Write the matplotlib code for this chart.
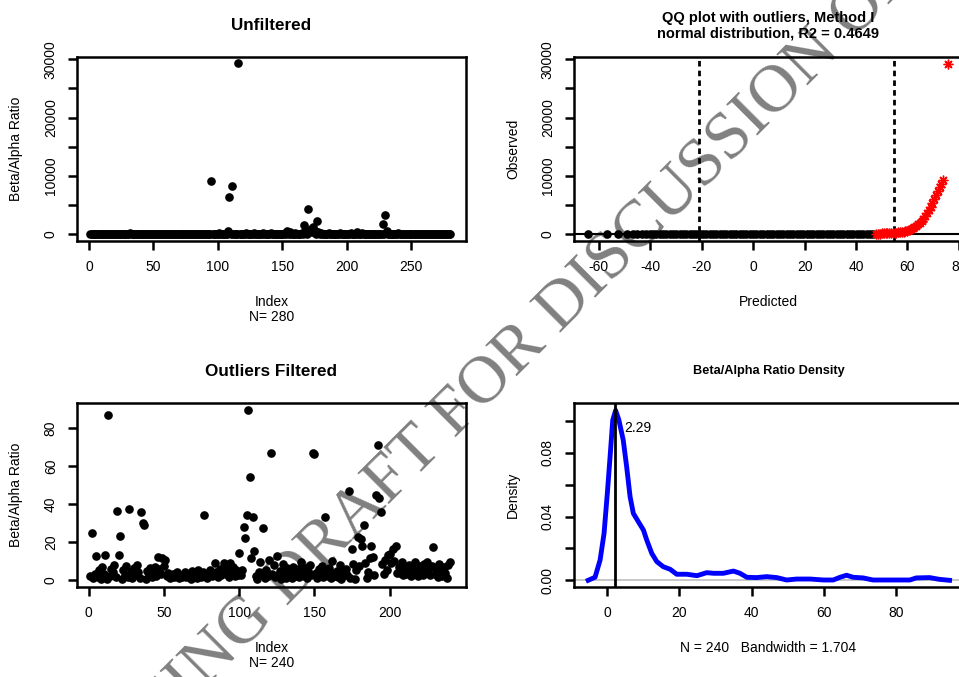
import matplotlib.pyplot as plt

plt.rcParams['font.family'] = ['Liberation Sans', 'DejaVu Sans']
plt.rcParams['axes.unicode_minus'] = False

# beta/alpha ratio after outlier removal (index 1..240)
filtered = [
    2.1, 25.1, 1.2, 3.4, 12.8, 1.8, 5.6, 0.9, 7.2, 3.1,
    13.3, 0.6, 86.8, 2.4, 6.1, 4.3, 8.2, 1.5, 36.6, 13.3,
    23.3, 0.8, 5.2, 2.9, 7.4, 1.9, 37.3, 4.1, 1.1, 6.3,
    2.6, 7.9, 4.4, 1.3, 36.0, 30.2, 29.0, 0.5, 5.1, 3.2,
    6.2, 1.6, 4.0, 6.8, 2.2, 12.1, 5.8, 3.3, 11.5, 7.6,
    10.7, 2.0, 3.9, 1.4, 2.8, 3.5, 1.7, 2.5, 4.2, 1.2,
    3.0, 1.9, 2.7, 4.6, 1.5, 3.3, 2.1, 0.9, 4.9, 2.4,
    3.8, 1.3, 5.2, 2.6, 1.6, 4.1, 34.4, 2.3, 1.1, 3.7,
    5.4, 2.0, 3.6, 9.3, 4.4, 1.8, 6.0, 2.9, 5.0, 8.9,
    3.4, 6.3, 1.7, 8.9, 4.8, 7.1, 2.5, 5.5, 3.0, 14.2,
    2.6, 5.3, 28.0, 22.1, 34.4, 89.8, 54.5, 11.6, 33.1, 15.6,
    2.0, 0.8, 4.2, 9.8, 3.1, 27.4, 1.0, 5.6, 2.3, 10.6,
    66.8, 3.4, 7.8, 1.9, 12.8, 2.7, 5.1, 0.9, 8.6, 3.5,
    1.4, 6.2, 2.8, 4.4, 1.1, 7.0, 3.2, 2.0, 5.7, 1.5,
    9.6, 3.9, 2.4, 6.5, 1.2, 4.7, 8.0, 2.6, 66.9, 66.3,
    3.6, 1.3, 5.9, 2.9, 7.3, 1.8, 33.2, 4.5, 2.2, 6.7,
    1.0, 10.3, 3.8, 2.5, 5.0, 1.6, 7.9, 0.7, 4.3, 2.8,
    6.1, 3.0, 47.2, 1.4, 16.3, 8.4, 0.6, 5.2, 23.0, 7.5,
    21.6, 17.8, 29.1, 9.0, 1.1, 4.6, 11.6, 18.1, 12.4, 2.8,
    44.7, 71.2, 43.1, 36.1, 8.8, 3.2, 10.5, 5.4, 13.3, 14.0,
    9.2, 16.5, 10.4, 17.9, 3.6, 6.8, 4.0, 9.7, 2.9, 7.2,
    3.5, 5.8, 8.1, 2.4, 6.6, 3.9, 9.4, 4.8, 2.2, 7.7,
    5.3, 3.0, 8.5, 4.1, 9.8, 6.2, 2.6, 7.4, 17.4, 3.3,
    5.9, 1.8, 8.7, 4.2, 2.5, 6.9, 3.6, 1.4, 8.0, 9.5,
]

# the 40 outliers, position in the unfiltered series and value
outlier_idx = [32, 95, 101, 108, 109, 111, 116, 122, 128, 135,
               141, 147, 152, 154, 156, 160, 165, 167, 168, 170,
               171, 172, 173, 174, 175, 177, 178, 180, 186, 195,
               203, 208, 212, 220, 228, 230, 231, 240, 252, 265]
outlier_val = [250, 9100, 180, 650, 6400, 8300, 29300, 150, 200, 300,
               250, 120, 200, 550, 400, 150, 300, 1550, 800, 4300,
               500, 900, 350, 1250, 600, 2230, 400, 200, 150, 180,
               300, 350, 150, 120, 1840, 3380, 500, 200, 130, 110]

unfiltered = []
k = 0
for i in range(1, 281):
    if i in outlier_idx:
        unfiltered.append(outlier_val[outlier_idx.index(i)])
    else:
        unfiltered.append(filtered[k])
        k += 1

# QQ plot, predicted vs observed
qq_black_x = [-64.2, -56.8, -52.5, -49.2, -46.9, -45.1, -43.4, -41.7,
              -40.3, -39.0, -37.7, -36.4, -35.1, -33.8, -32.5, -31.2, -29.9, -28.6,
              -27.3, -26.0, -24.7, -23.4, -22.1, -20.8, -19.5, -18.2, -16.9, -15.6,
              -14.3, -13.0, -11.7, -10.4, -9.1, -7.8, -6.5, -5.2, -3.9, -2.6,
              -1.3, 0.0, 1.3, 2.6, 3.9, 5.2, 6.5, 7.8, 9.1, 10.4,
              11.7, 13.0, 14.3, 15.6, 16.9, 18.2, 19.5, 20.8, 22.1, 23.4,
              24.7, 26.0, 27.3, 28.6, 29.9, 31.2, 32.5, 33.8, 35.1, 36.4,
              37.7, 39.0, 40.3, 41.6, 42.9, 44.2, 45.5, 46.8]
qq_black_y = [0.1, 0.2, 0.3, 0.4, 0.5, 0.6, 0.7, 0.8, 0.9, 1.0,
              1.1, 1.2, 1.4, 1.5, 1.6, 1.8, 1.9, 2.0, 2.2, 2.3,
              2.5, 2.6, 2.8, 2.9, 3.1, 3.3, 3.5, 3.6, 3.8, 4.0,
              4.2, 4.4, 4.6, 4.9, 5.1, 5.3, 5.6, 5.9, 6.2, 6.5,
              6.8, 7.1, 7.5, 7.9, 8.3, 8.7, 9.2, 9.7, 10.3, 10.9,
              11.6, 12.4, 13.3, 14.2, 15.6, 16.5, 17.4, 18.1, 21.6, 23.0,
              25.1, 28.0, 29.1, 30.2, 33.1, 34.4, 36.0, 37.3, 44.7, 47.2,
              54.5, 66.3, 66.9, 71.2, 86.8, 89.8]
qq_red_x = [47.8, 48.6, 49.4, 50.1, 50.8, 51.5, 52.2, 52.9, 53.6, 54.3,
            55.0, 55.7, 56.4, 57.1, 57.8, 58.5, 59.2, 59.9, 60.6, 61.3,
            62.0, 62.7, 63.4, 64.1, 64.8, 65.5, 66.2, 66.9, 67.6, 68.3,
            69.0, 69.7, 70.4, 71.1, 71.8, 72.5, 73.2, 73.9, 75.6]
qq_red_y = [100, 120, 130, 150, 160, 180, 190, 210, 230, 250,
            270, 300, 330, 360, 400, 450, 520, 600, 700, 850,
            1000, 1200, 1450, 1700, 2000, 2300, 2700, 3100, 3600, 4100,
            4700, 5300, 6000, 6700, 7400, 8100, 8700, 9300, 29200]
qq_cuts = [-21.1, 54.7]

# density of the filtered ratio
dens_x = [-5.2, -3.3, -1.9, -0.8, 0.1, 1.0, 1.6, 2.4, 3.3, 4.5,
          5.45, 6.4, 7.3, 8.7, 10.1, 11.0, 12.4, 13.8, 15.6, 17.5,
          19.3, 22.1, 24.9, 27.6, 29.5, 32.2, 35.0, 36.8, 38.7, 41.4,
          44.2, 47.0, 49.7, 52.5, 56.2, 59.9, 62.6, 64.5, 66.3, 68.1,
          70.9, 73.6, 77.3, 83.8, 85.6, 89.3, 92.0, 94.8]
dens_y = [0.0, 0.0019, 0.0127, 0.0295, 0.0545, 0.0817, 0.1005, 0.1066, 0.1005, 0.088,
          0.0712, 0.0524, 0.042, 0.0367, 0.0315, 0.0253, 0.0169, 0.0117, 0.0085, 0.0069,
          0.0038, 0.0038, 0.0029, 0.0048, 0.0044, 0.0044, 0.0058, 0.0044, 0.0019, 0.0017,
          0.0023, 0.0017, 0.0002, 0.0008, 0.0008, 0.0002, 0.0002, 0.0019, 0.0032, 0.0019,
          0.0015, 0.0002, 0.0002, 0.0002, 0.0015, 0.0017, 0.0006, 0.0]
dens_mode = 2.29

fig = plt.figure(figsize=(9.59, 6.77), dpi=100)


def r_axes(rect, xlim, ylim, xticks, yticks, ylabels):
    ax = fig.add_axes(rect)
    ax.set_facecolor('none')
    for s in ax.spines.values():
        s.set_linewidth(1.8)
    ax.set_xlim(xlim)
    ax.set_ylim(ylim)
    ax.set_xticks(xticks)
    ax.set_yticks(yticks)
    ax.set_yticklabels(ylabels, rotation=90, va='center')
    ax.tick_params(direction='out', length=6.8, width=1.8, labelsize=10, pad=7)
    return ax


big_ticks = [0, 5000, 10000, 15000, 20000, 25000, 30000]
big_labels = ['0', '', '10000', '', '20000', '', '30000']

# top left
ax1 = r_axes([0.0803, 0.644, 0.4056, 0.2718], (-9.3, 292.5), (-1150, 30400),
             [0, 50, 100, 150, 200, 250], big_ticks, big_labels)
ax1.plot(range(1, 281), unfiltered, 'o', color='black', ms=5.2)
ax1.set_title('Unfiltered', fontsize=12.3, fontweight='bold', pad=19.5)
ax1.set_xlabel('Index\nN= 280', fontsize=10, labelpad=15, linespacing=1.1)
ax1.set_ylabel('Beta/Alpha Ratio', fontsize=10, labelpad=15)

# top right
ax2 = r_axes([0.5985, 0.644, 0.4056, 0.2718], (-69.7, 81.6), (-1150, 30400),
             [-60, -40, -20, 0, 20, 40, 60, 80], big_ticks, big_labels)
ax2.axhline(0, color='black', lw=1.5)
for c in qq_cuts:
    ax2.axvline(c, color='black', lw=2, ls=(0, (2, 1.5)))
ax2.plot(qq_black_x, qq_black_y, 'o', color='black', ms=5.2)
ax2.plot(qq_red_x, qq_red_y, ls='none', marker=(8, 2, 0), color='red', ms=7, mew=1)
ax2.set_title('QQ plot with outliers, Method I\nnormal distribution, R2 = 0.4649',
              fontsize=10.5, fontweight='bold', pad=14.4, linespacing=1.1)
ax2.set_xlabel('Predicted', fontsize=10, labelpad=15)
ax2.set_ylabel('Observed', fontsize=10, labelpad=15)

# bottom left
ax3 = r_axes([0.0803, 0.1325, 0.4056, 0.2718], (-7.7, 250.8), (-3.7, 93.2),
             [0, 50, 100, 150, 200], [0, 20, 40, 60, 80], ['0', '20', '40', '60', '80'])
ax3.plot(range(1, 241), filtered, 'o', color='black', ms=5.2)
ax3.set_title('Outliers Filtered', fontsize=12.3, fontweight='bold', pad=19.6)
ax3.set_xlabel('Index\nN= 240', fontsize=10, labelpad=15, linespacing=1.1)
ax3.set_ylabel('Beta/Alpha Ratio', fontsize=10, labelpad=15)

# bottom right
ax4 = r_axes([0.5985, 0.1334, 0.4056, 0.2708], (-9.13, 98.5), (-0.004, 0.111),
             [0, 20, 40, 60, 80], [0, 0.02, 0.04, 0.06, 0.08, 0.10],
             ['0.00', '', '0.04', '', '0.08', ''])
ax4.axhline(0, color='#bebebe', lw=1.2)
ax4.plot(dens_x, dens_y, color='blue', lw=3.5)
ax4.axvline(dens_mode, color='black', lw=2)
ax4.text(dens_mode + 2.4, 0.0955, '%.2f' % dens_mode, fontsize=10, ha='left', va='center')
ax4.set_title('Beta/Alpha Ratio Density', fontsize=9.2, fontweight='bold', pad=21)
ax4.set_xlabel('N = 240   Bandwidth = 1.704', fontsize=10, labelpad=15)
ax4.set_ylabel('Density', fontsize=10, labelpad=15)

# draft watermark behind the plots
fig.text(0.0456, -0.256, 'WORKING DRAFT FOR DISCUSSION ONLY', rotation=45,
         rotation_mode='anchor', ha='left', va='baseline', fontsize=48.7,
         family='Liberation Serif', color='#808080', zorder=-1)

fig.savefig('out.png', dpi=100)
